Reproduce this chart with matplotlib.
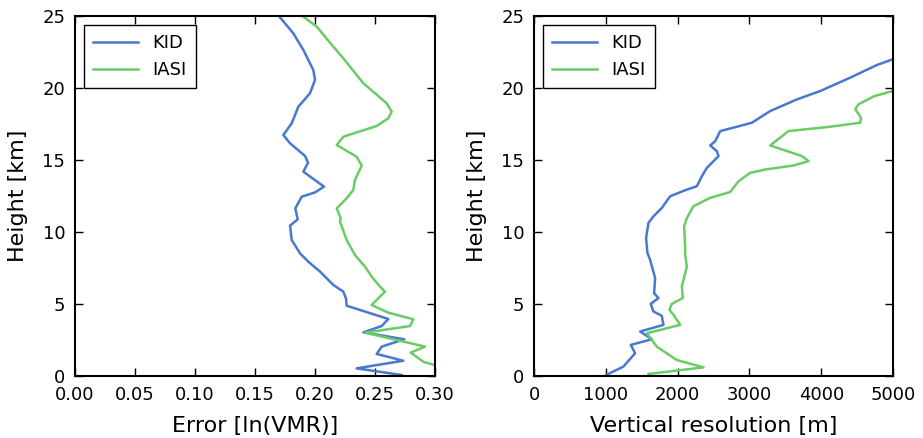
import matplotlib
matplotlib.use("Agg")
import matplotlib.pyplot as plt
import numpy as np

# Left panel: error profiles
kid_err_x = [0.2722, 0.2347, 0.2736, 0.2514, 0.2556, 0.2744, 0.2403, 0.2556, 0.2611, 0.2264,
             0.2258, 0.2236, 0.2153, 0.2042, 0.1944, 0.1875, 0.1806, 0.1792, 0.1856, 0.1836,
             0.1889, 0.2000, 0.2075, 0.1903, 0.1942, 0.1917, 0.1792, 0.1736, 0.1806, 0.1861,
             0.1958, 0.2000, 0.1986, 0.1903, 0.1819, 0.1708]
kid_err_h = [0.07, 0.53, 1.06, 1.53, 2.04, 2.55, 3.03, 3.47, 3.96, 4.88,
             5.39, 5.86, 6.32, 7.25, 7.94, 8.52, 9.44, 10.44, 10.88, 11.64,
             12.45, 12.75, 13.15, 14.19, 14.81, 15.28, 16.16, 16.74, 17.55, 18.70,
             19.63, 20.56, 21.25, 22.64, 23.80, 24.91]

iasi_err_x = [0.320, 0.310, 0.2903, 0.2797, 0.2917, 0.2417, 0.2792, 0.2819, 0.2611, 0.2472,
              0.2583, 0.2542, 0.2472, 0.2417, 0.2333, 0.2264, 0.2208, 0.2214, 0.2181, 0.2264,
              0.2319, 0.2333, 0.2389, 0.2347, 0.2181, 0.2236, 0.2514, 0.2611, 0.2639, 0.2597,
              0.2403, 0.2236, 0.2153, 0.2014, 0.1903]
iasi_err_h = [0.0, 0.5, 0.99, 1.62, 2.04, 3.01, 3.47, 3.94, 4.40, 4.93,
              5.86, 6.20, 6.90, 7.59, 8.40, 9.44, 10.72, 10.95, 11.64, 12.34,
              12.92, 13.61, 14.61, 15.23, 16.04, 16.62, 17.36, 17.90, 18.36, 18.94,
              20.33, 22.06, 22.87, 24.26, 24.95]

# Right panel: vertical resolution profiles
kid_res_x = [1004, 1245, 1408, 1348, 1641, 1478, 1803, 1780, 1664, 1626,
             1733, 1673, 1687, 1617, 1580, 1561, 1594, 1664, 1780, 1896,
             2105, 2268, 2338, 2407, 2570, 2547, 2454, 2524, 2594, 2826,
             3035, 3290, 3662, 3987, 4405, 4777, 5000, 5200]
kid_res_h = [0.07, 0.65, 1.58, 2.16, 2.55, 3.09, 3.55, 4.18, 4.48, 5.01,
             5.41, 5.75, 6.80, 8.07, 8.54, 9.58, 10.63, 11.09, 11.67, 12.48,
             12.90, 13.18, 13.87, 14.45, 15.27, 15.61, 16.01, 16.31, 17.01, 17.31,
             17.59, 18.40, 19.21, 19.79, 20.72, 21.60, 22.0, 22.3]

iasi_res_x = [1594, 2361, 1989, 1710, 1571, 2036, 1943, 1887, 1919, 2073,
              2059, 2129, 2105, 2105, 2091, 2129, 2221, 2454, 2733, 2849,
              3012, 3221, 3615, 3825, 3732, 3290, 3545, 4126, 4545, 4554,
              4475, 4517, 4740, 5000, 5200]
iasi_res_h = [0.14, 0.60, 1.11, 2.04, 2.97, 3.55, 4.25, 4.59, 5.01, 5.41,
              6.22, 7.61, 8.42, 9.00, 10.39, 10.97, 11.79, 12.37, 12.78, 13.53,
              14.11, 14.34, 14.62, 14.92, 15.27, 16.01, 17.01, 17.31, 17.59, 17.94,
              18.52, 18.86, 19.44, 19.79, 20.0]

series_names = ["KID", "IASI"]
colors = ["#4878CF", "#6ACC65"]

fig = plt.figure(figsize=(9.23, 4.38), dpi=100)
W, H = 923, 438
ax1 = fig.add_axes([75 / W, 1 - 376 / H, 360 / W, 360 / H])
ax2 = fig.add_axes([534 / W, 1 - 376 / H, 359 / W, 360 / H])

ax1.plot(kid_err_x, kid_err_h, color=colors[0], lw=1.8, label=series_names[0])
ax1.plot(iasi_err_x, iasi_err_h, color=colors[1], lw=1.8, label=series_names[1])
ax1.set_xlim(0, 0.30)
ax1.set_ylim(0, 25)
ax1.set_xticks(np.arange(0, 0.301, 0.05))
ax1.set_xticklabels(["0.00", "0.05", "0.10", "0.15", "0.20", "0.25", "0.30"])
ax1.set_xlabel("Error [ln(VMR)]", fontsize=16, labelpad=9)
ax1.set_ylabel("Height [km]", fontsize=16, labelpad=10)

ax2.plot(kid_res_x, kid_res_h, color=colors[0], lw=1.8, label=series_names[0])
ax2.plot(iasi_res_x, iasi_res_h, color=colors[1], lw=1.8, label=series_names[1])
ax2.set_xlim(0, 5000)
ax2.set_ylim(0, 25)
ax2.set_xticks(np.arange(0, 5001, 1000))
ax2.set_xlabel("Vertical resolution [m]", fontsize=16, labelpad=9)
ax2.set_ylabel("Height [km]", fontsize=16, labelpad=10)

for ax in (ax1, ax2):
    ax.set_yticks(np.arange(0, 26, 5))
    ax.tick_params(direction="in", top=True, right=True, length=6, width=1,
                   labelsize=13, pad=7)
    for s in ax.spines.values():
        s.set_linewidth(1.5)
    leg = ax.legend(loc="upper left", fontsize=13, fancybox=False, framealpha=1,
                    edgecolor="black", borderpad=0.5, handlelength=2.5)
    leg.get_frame().set_linewidth(1.0)

fig.savefig("out.png", dpi=100)
